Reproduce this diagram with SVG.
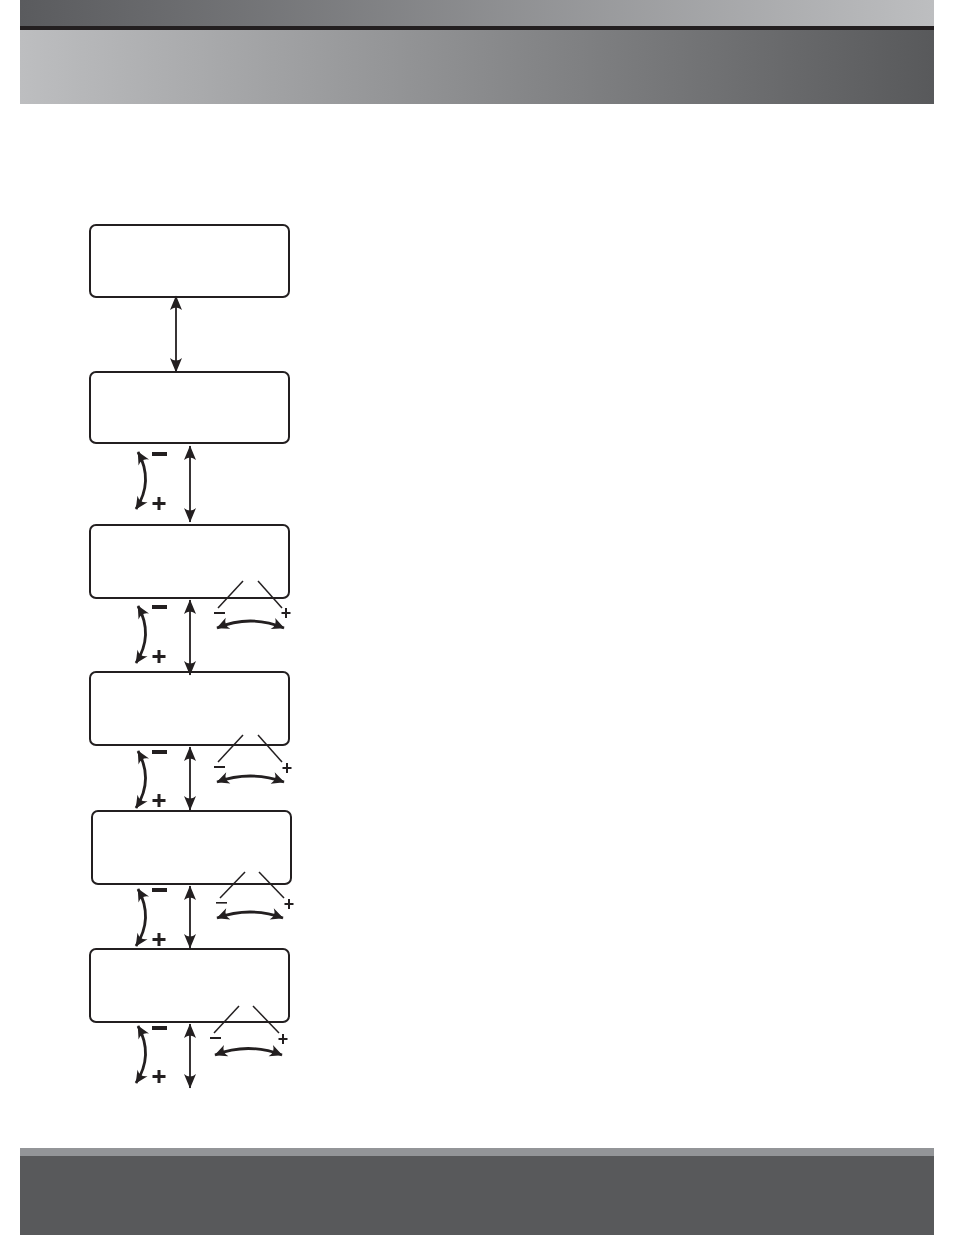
<svg xmlns="http://www.w3.org/2000/svg" width="954" height="1235" viewBox="0 0 954 1235">
<style>
.box{fill:#fff;stroke:#231f20;stroke-width:2}
.v{fill:none;stroke:#231f20;stroke-width:1.8;marker-start:url(#ah);marker-end:url(#ah)}
.c{fill:none;stroke:#231f20;stroke-width:2.8;marker-start:url(#ah2);marker-end:url(#ah2)}
.d{fill:none;stroke:#231f20;stroke-width:1.5}
.sym{fill:#231f20}
</style>
<defs>
<linearGradient id="g1" x1="0" x2="1" y1="0" y2="0"><stop offset="0" stop-color="#5a5b5e"/><stop offset="1" stop-color="#bdbec0"/></linearGradient>
<linearGradient id="g2" x1="0" x2="1" y1="0" y2="0"><stop offset="0" stop-color="#bdbec0"/><stop offset="1" stop-color="#58595b"/></linearGradient>
<marker id="ah" markerUnits="userSpaceOnUse" markerWidth="18" markerHeight="16" viewBox="-16 -8 18 16" refX="0" refY="0" orient="auto-start-reverse"><path d="M0.5,0 L-14,-6 Q-9,0 -14,6 Z" fill="#231f20"/></marker>
<marker id="ah2" markerUnits="userSpaceOnUse" markerWidth="18" markerHeight="16" viewBox="-16 -8 18 16" refX="0" refY="0" orient="auto-start-reverse"><path d="M0.5,0 L-12,-6 Q-7,0 -12,6 Z" fill="#231f20"/></marker>
</defs>
<g id="header">
<rect x="20" y="0" width="914" height="26" fill="url(#g1)"/>
<rect x="20" y="26" width="914" height="4" fill="#231f20"/>
<rect x="20" y="30" width="914" height="74" fill="url(#g2)"/>
</g>
<g id="footer">
<rect x="20" y="1148" width="914" height="8" fill="#939598"/>
<rect x="20" y="1156" width="914" height="79" fill="#58595b"/>
</g>
<g id="node1"><rect class="box" x="90" y="225" width="199" height="72" rx="6"/></g>
<g id="node2"><rect class="box" x="90" y="372" width="199" height="71" rx="6"/></g>
<g id="node3"><rect class="box" x="90" y="525" width="199" height="73" rx="6"/></g>
<g id="node4"><rect class="box" x="90" y="672" width="199" height="73" rx="6"/></g>
<g id="node5"><rect class="box" x="92" y="811" width="199" height="73" rx="6"/></g>
<g id="node6"><rect class="box" x="90" y="949" width="199" height="73" rx="6"/></g>
<g id="connectors">
<line class="v" x1="176" y1="296" x2="176" y2="372"/>
<!-- box2 -->
<line class="v" x1="190" y1="446" x2="190" y2="522"/>
<path class="c" d="M138,452 Q154,481 136,509"/>
<rect class="sym" x="152" y="452" width="15" height="4"/>
<path class="sym" d="M152.5,502 h5 v-5 h3 v5 h5 v3 h-5 v5 h-3 v-5 h-5 z"/>
<!-- box3 -->
<line class="v" x1="190" y1="600" x2="190" y2="675"/>
<path class="c" d="M138,606 Q154,635 136,663"/>
<rect class="sym" x="152" y="605" width="15" height="4"/>
<path class="sym" d="M152.5,655 h5 v-5 h3 v5 h5 v3 h-5 v5 h-3 v-5 h-5 z"/>
<line class="d" x1="243" y1="581" x2="218" y2="608"/>
<line class="d" x1="258" y1="581" x2="282" y2="608"/>
<rect class="sym" x="214" y="612" width="11" height="2"/>
<path class="sym" d="M281.5,612 h3.5 v-4 h2 v4 h3.5 v2 h-3.5 v4 h-2 v-4 h-3.5 z"/>
<path class="c" d="M217,628 Q250,614 284,628"/>
<!-- box4 -->
<line class="v" x1="190" y1="747" x2="190" y2="810"/>
<path class="c" d="M138,751 Q154,780 136,808"/>
<rect class="sym" x="152" y="750" width="15" height="4"/>
<path class="sym" d="M152.5,799 h5 v-5 h3 v5 h5 v3 h-5 v5 h-3 v-5 h-5 z"/>
<line class="d" x1="243" y1="735" x2="218" y2="762"/>
<line class="d" x1="258" y1="735" x2="282" y2="762"/>
<rect class="sym" x="214" y="766" width="11" height="2"/>
<path class="sym" d="M282.5,767 h3.5 v-4 h2 v4 h3.5 v2 h-3.5 v4 h-2 v-4 h-3.5 z"/>
<path class="c" d="M217,782 Q250,770 284,782"/>
<!-- box5 -->
<line class="v" x1="190" y1="886" x2="190" y2="948"/>
<path class="c" d="M138,889 Q154,918 136,946"/>
<rect class="sym" x="152" y="888" width="15" height="4"/>
<path class="sym" d="M152.5,938 h5 v-5 h3 v5 h5 v3 h-5 v5 h-3 v-5 h-5 z"/>
<line class="d" x1="245" y1="872" x2="220" y2="898"/>
<line class="d" x1="259" y1="872" x2="284" y2="898"/>
<rect class="sym" x="216" y="902" width="11" height="1.6"/>
<path class="sym" d="M284.5,903 h3.5 v-4 h2 v4 h3.5 v2 h-3.5 v4 h-2 v-4 h-3.5 z"/>
<path class="c" d="M217,918 Q250,906 283,918"/>
<!-- box6 -->
<line class="v" x1="190" y1="1024" x2="190" y2="1088"/>
<path class="c" d="M138,1026 Q154,1055 136,1083"/>
<rect class="sym" x="152" y="1026" width="15" height="4"/>
<path class="sym" d="M152.5,1075 h5 v-5 h3 v5 h5 v3 h-5 v5 h-3 v-5 h-5 z"/>
<line class="d" x1="239" y1="1006" x2="214" y2="1033"/>
<line class="d" x1="253" y1="1006" x2="279" y2="1033"/>
<rect class="sym" x="210" y="1037" width="11" height="2"/>
<path class="sym" d="M278.5,1038 h3.5 v-4 h2 v4 h3.5 v2 h-3.5 v4 h-2 v-4 h-3.5 z"/>
<path class="c" d="M215,1055 Q248,1042 282,1055"/>
</g>
</svg>
